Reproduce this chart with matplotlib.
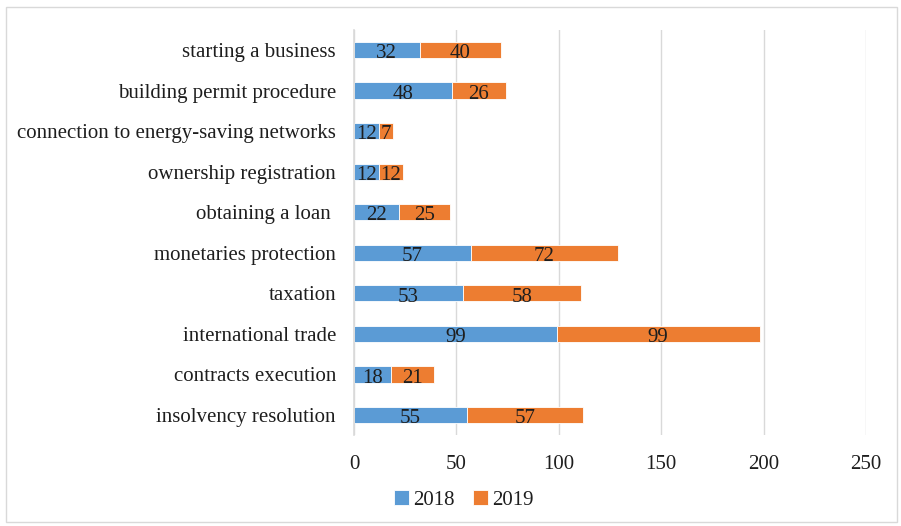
import matplotlib
matplotlib.use("Agg")
import matplotlib.pyplot as plt
from matplotlib.patches import Rectangle
import numpy as np

categories = ["starting a business", "building permit procedure",
              "connection to energy-saving networks", "ownership registration",
              "obtaining a loan ", "monetaries protection", "taxation",
              "international trade", "contracts execution", "insolvency resolution"]
v2018 = [32, 48, 12, 12, 22, 57, 53, 99, 18, 55]
v2019 = [40, 26, 7, 12, 25, 72, 58, 99, 21, 57]
series_names = ["2018", "2019"]
xticks = [0, 50, 100, 150, 200, 250]

plt.rcParams['font.family'] = ['Liberation Serif', 'DejaVu Serif']
FS = 15
c1, c2 = "#5B9BD5", "#ED7D31"
txt = "#1E1E1E"

fig = plt.figure(figsize=(9.01, 5.26), dpi=100)
ax = fig.add_axes([354/901, 1-435.25/526, 512/901, 405.5/526])

y = np.arange(len(categories))
a1 = np.array(v2018)
a2 = np.array(v2019)
b1 = ax.barh(y, a1, height=0.4, color=c1, edgecolor="white", linewidth=0.6, label=series_names[0], zorder=3)
b2 = ax.barh(y, a2, left=a1, height=0.4, color=c2, edgecolor="white", linewidth=0.6, label=series_names[1], zorder=3)
for yi, s1, s2 in zip(y, a1, a2):
    ax.text(s1/2, yi + 0.03, str(s1), ha='center', va='center_baseline', fontsize=FS, color=txt, zorder=5)
    ax.text(s1 + s2/2, yi + 0.03, str(s2), ha='center', va='center_baseline', fontsize=FS, color=txt, zorder=5)

ax.set_ylim(len(categories)-0.5, -0.5)
ax.set_xlim(0, 250)
ax.set_yticks(y)
ax.set_yticklabels(categories, fontsize=FS, color=txt)
ax.set_xticks(xticks)
ax.set_xticklabels([str(t) for t in xticks], fontsize=FS, color=txt)
ax.tick_params(axis='both', length=0)
ax.tick_params(axis='y', pad=13)
ax.tick_params(axis='x', pad=14)
ax.grid(axis='x', color="#D9D9D9", linewidth=1, zorder=0)
for s in ["top", "right", "bottom"]:
    ax.spines[s].set_visible(False)
ax.spines["left"].set_color("#D9D9D9")
ax.spines["left"].set_linewidth(1.2)
ax.spines["left"].set_zorder(4)

fig.legend(handles=[b1, b2], labels=series_names, loc='center', bbox_to_anchor=(464/901, 1-500/526),
           ncol=2, frameon=False, fontsize=FS, handlelength=0.7, handleheight=0.7,
           handletextpad=0.2, columnspacing=0.9, labelcolor=txt)

fig.patches.append(Rectangle((6/901, 1-522/526), 891/901, 515/526, transform=fig.transFigure,
                             fill=False, edgecolor="#D9D9D9", linewidth=1))

fig.savefig("out.png", dpi=100)
